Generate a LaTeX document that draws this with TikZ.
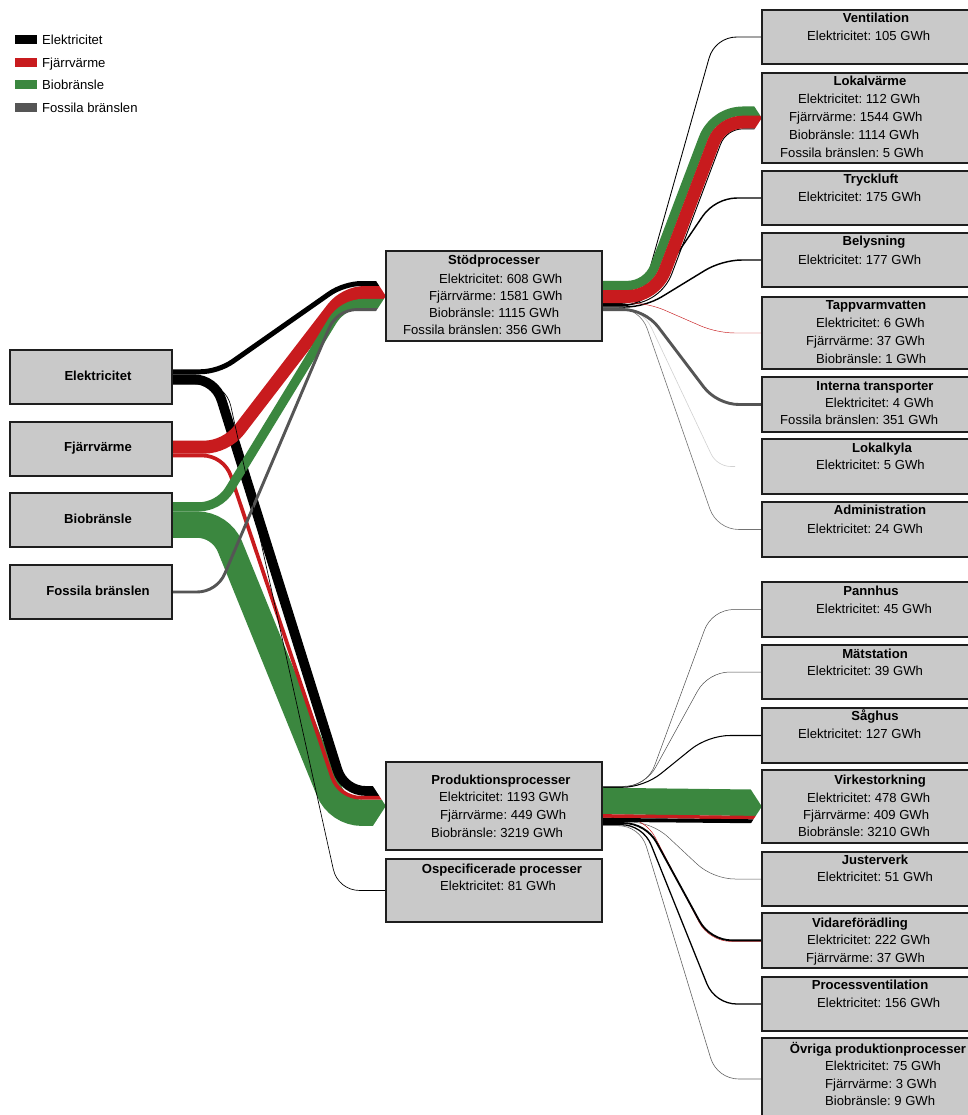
\documentclass[tikz,border=0pt]{standalone}
\usepackage{fontspec}
\setmainfont{Liberation Sans}
\usetikzlibrary{calc}
\definecolor{elc}{RGB}{0,0,0}
\definecolor{fjc}{RGB}{200,27,30}
\definecolor{bic}{RGB}{59,135,63}
\definecolor{foc}{RGB}{85,85,85}
\definecolor{boxfill}{RGB}{201,201,201}
\definecolor{boxline}{RGB}{30,30,30}
\pgfdeclarelayer{paper}
\pgfdeclarelayer{flows}
\pgfsetlayers{paper,flows,main}
\frenchspacing

% A flow band: horizontal start, straight diagonal, horizontal end,
% with rounded bends (#6 and #7 are the tangent lengths of the two bends)
\newcommand\lnk[7]{%
  \coordinate (lA) at (#2);
  \coordinate (lB) at (#5);
  \coordinate (lX1) at (#3,0);
  \coordinate (lX2) at (#4,0);
  \coordinate (lP) at (lA -| lX1);
  \coordinate (lQ) at (lB -| lX2);
  \draw[#1] (lA) -- ($(lP)!#6pt!(lA)$)
    .. controls ($(lP)!0.4*#6pt!(lA)$) and ($(lP)!0.4*#6pt!(lQ)$) .. ($(lP)!#6pt!(lQ)$)
    -- ($(lQ)!#7pt!(lP)$)
    .. controls ($(lQ)!0.4*#7pt!(lP)$) and ($(lQ)!0.4*#7pt!(lB)$) .. ($(lQ)!#7pt!(lB)$)
    -- (lB);}

% Arrow-shaped end of a stack of bands arriving at a box edge
\newcommand\notch[2]{%
  \fill[white] ($(#1)+({-0.65*(#2+2)},{-(#2+2)})$) -- ($(#1)+(2,{-(#2+2)})$) -- ($(#1)+(2,0)$) -- (#1) -- cycle;
  \fill[white] ($(#1)+({-0.65*(#2+2)},{#2+2})$) -- ($(#1)+(2,{#2+2})$) -- ($(#1)+(2,0)$) -- (#1) -- cycle;}

\begin{document}
\begin{tikzpicture}[x=1pt,y=-1pt,
  box/.style={draw=boxline, line width=2.2pt, fill=boxfill, inner sep=0pt, outer sep=0pt},
  srcbox/.style={box, minimum width=162pt, minimum height=54pt},
  midbox/.style={box, minimum width=216pt},
  endbox/.style={box, minimum width=207pt},
  lbl/.style={font=\fontsize{13.1pt}{15pt}\selectfont, inner sep=0pt, anchor=base west},
  ttl/.style={font=\fontsize{13.1pt}{15pt}\selectfont\bfseries, inner sep=0pt, anchor=base},
  swatch/.style={inner sep=0pt, outer sep=0pt, minimum width=22pt, minimum height=9pt},
  fel/.style={draw=elc},
  ffj/.style={draw=fjc},
  fbio/.style={draw=bic},
  ffo/.style={draw=foc}]

\begin{pgfonlayer}{paper}
\fill[white] (0,0) rectangle (967,1115);
\end{pgfonlayer}
\useasboundingbox (0,0) rectangle (967,1115);

% ---------- boxes ----------
\node[srcbox] (elek) at (91,377) {};
\node[srcbox] (fjarr) at (91,449) {};
\node[srcbox] (bio) at (91,520) {};
\node[srcbox] (foss) at (91,592) {};

\node[midbox, minimum height=90pt] (stod) at (494,296) {};
\node[midbox, minimum height=88pt] (prod) at (494,806) {};
\node[midbox, minimum height=63pt] (osp) at (494,890.5) {};

\node[endbox, minimum height=54pt] (vent) at (865.5,37) {};
\node[endbox, minimum height=90pt] (lokal) at (865.5,118) {};
\node[endbox, minimum height=54pt] (tryck) at (865.5,198) {};
\node[endbox, minimum height=54pt] (bely) at (865.5,260) {};
\node[endbox, minimum height=72pt] (tapp) at (865.5,333) {};
\node[endbox, minimum height=55pt] (intern) at (865.5,404.5) {};
\node[endbox, minimum height=55pt] (kyla) at (865.5,466.5) {};
\node[endbox, minimum height=55pt] (admin) at (865.5,529.5) {};
\node[endbox, minimum height=55pt] (pann) at (865.5,609.5) {};
\node[endbox, minimum height=54pt] (mat) at (865.5,672) {};
\node[endbox, minimum height=55pt] (sag) at (865.5,735.5) {};
\node[endbox, minimum height=73pt] (virk) at (865.5,806.5) {};
\node[endbox, minimum height=54pt] (just) at (865.5,879) {};
\node[endbox, minimum height=55pt] (vid) at (865.5,940.5) {};
\node[endbox, minimum height=54pt] (proc) at (865.5,1004) {};
\node[endbox, minimum height=82pt] (ovr) at (865.5,1079) {};

\coordinate (kylaend) at ($(kyla.west)+(-27,0)$);

% ---------- flows ----------
\begin{pgfonlayer}{flows}
% Stödprocesser -> end uses (thin lines)
\lnk{fel, line width=0.86pt}{$(stod.east)+(0,7.53)$}{640}{715}{vent.west}{20}{22}
\lnk{fel, line width=1.43pt}{$(stod.east)+(0,9.6)$}{642}{715}{tryck.west}{20}{22}
\lnk{fel, line width=1.45pt}{$(stod.east)+(0,11.03)$}{645}{722}{bely.west}{20}{20}
\lnk{fel, line width=0.92pt}{$(stod.east)+(0,8.42)$}{660.3}{726.3}{$(lokal.west)+(0,10.87)$}{33}{16.6}
\lnk{draw=black!55, line width=0.6pt}{$(stod.east)+(0,11.98)$}{640}{717}{admin.west}{22}{22}
\lnk{draw=black!18, line width=0.6pt}{$(stod.east)+(0,11.8)$}{642}{717}{kylaend}{22}{14}
\lnk{ffo, line width=2.88pt}{$(stod.east)+(0,13.56)$}{645}{717}{intern.west}{22}{22}
\lnk{ffj, line width=0.45pt}{$(stod.east)+(0,6.95)$}{648}{717}{tapp.west}{18}{18}

% Stödprocesser -> Lokalvärme
\lnk{fbio, line width=9.4pt}{$(stod.east)+(0,-10.43)$}{647.63}{713.63}{$(lokal.west)+(0,-6.81)$}{20.5}{29.2}
\lnk{ffj, line width=12.8pt}{$(stod.east)+(0,0.47)$}{655.16}{721.16}{$(lokal.west)+(0,4.09)$}{28}{21.7}

% Produktionsprocesser -> end uses (thin lines)
\lnk{draw=black!70, line width=0.5pt}{$(prod.east)+(0,-19.74)$}{647}{712}{pann.west}{22}{22}
\lnk{draw=black!70, line width=0.5pt}{$(prod.east)+(0,-19.4)$}{645}{708}{mat.west}{22}{22}
\lnk{fel, line width=1.04pt}{$(prod.east)+(0,-18.71)$}{644}{708}{sag.west}{22}{22}
\lnk{draw=black!65, line width=0.5pt}{$(prod.east)+(0,16.01)$}{652}{713}{just.west}{22}{22}
\lnk{ffj, line width=0.5pt}{$(prod.east)+(0,11.7)$}{645}{709}{$(vid.west)+(0,0.91)$}{22}{22}
\lnk{fel, line width=1.82pt}{$(prod.east)+(0,17.13)$}{646}{710}{$(vid.west)+(0,-0.15)$}{22}{22}
\lnk{fel, line width=1.28pt}{$(prod.east)+(0,18.68)$}{643}{715}{proc.west}{22}{22}
\lnk{draw=black!60, line width=0.61pt}{$(prod.east)+(0,19.63)$}{640}{717}{ovr.west}{22}{22}

% Produktionsprocesser -> Virkestorkning
\draw[fbio, line width=26.5pt] ($(prod.east)+(0,-5.03)$) -- ($(virk.west)+(0,-3.63)$);
\draw[ffj, line width=3.5pt] ($(prod.east)+(0,9.88)$) -- ($(virk.west)+(0,11.2)$);
\draw[fel, line width=3.92pt] ($(prod.east)+(0,13.84)$) -- ($(virk.west)+(0,14.83)$);

% carriers -> Produktionsprocesser
\lnk{fbio, line width=26.39pt}{$(bio.east)+(0,4.57)$}{221}{338}{$(prod.west)+(0,6.73)$}{24}{24}
\lnk{fel, line width=9.78pt}{$(elek.east)+(0,2.16)$}{215}{344}{$(prod.west)+(0,-15.03)$}{22}{22}
\lnk{ffj, line width=3.68pt}{$(fjarr.east)+(0,6.48)$}{224}{339}{$(prod.west)+(0,-8.3)$}{22}{22}

% carriers -> Stödprocesser
\lnk{ffj, line width=12.96pt}{$(fjarr.east)+(0,-1.84)$}{226}{345}{$(stod.west)+(0,-3.54)$}{22}{20}
\lnk{fbio, line width=9.14pt}{$(bio.east)+(0,-13.19)$}{219}{343}{$(stod.west)+(0,7.51)$}{20}{20}
\lnk{ffo, line width=2.92pt}{$(foss.east)$}{217}{337}{$(stod.west)+(0,13.54)$}{20}{20}
\lnk{fel, line width=4.98pt}{$(elek.east)+(0,-5.22)$}{218}{344}{$(stod.west)+(0,-12.51)$}{18}{18}

% Elektricitet -> Ospecificerade processer
\lnk{fel, line width=0.66pt}{$(elek.east)+(0,7.38)$}{226}{338}{osp.west}{22}{22}

% arrow-shaped ends
\notch{stod.west}{15}
\notch{prod.west}{19.92}
\notch{lokal.west}{11.37}
\notch{virk.west}{16.79}
\end{pgfonlayer}

% ---------- texts ----------
\node[ttl] (telek) at (98,380.7) {Elektricitet};
\node[ttl] (tfjarr) at (98,451.7) {Fjärrvärme};
\node[ttl] (tbio) at (98,523.7) {Biobränsle};
\node[ttl] (tfoss) at (98,595.7) {Fossila bränslen};

\node[ttl] (tstod) at (494,264.7) {Stödprocesser};
\node[lbl] (s1) at (439,283) {Elektricitet: 608 GWh};
\node[lbl] (s2) at (429,300.3) {Fjärrvärme: 1581 GWh};
\node[lbl] (s3) at (429,317.6) {Biobränsle: 1115 GWh};
\node[lbl] (s4) at (403,334.9) {Fossila bränslen: 356 GWh};

\node[ttl] (tprod) at (501,784) {Produktionsprocesser};
\node[lbl] (p1) at (439,801.4) {Elektricitet: 1193 GWh};
\node[lbl] (p2) at (440,819.7) {Fjärrvärme: 449 GWh};
\node[lbl] (p3) at (431,837.4) {Biobränsle: 3219 GWh};

\node[ttl] (tosp) at (502,873) {Ospecificerade processer};
\node[lbl] (o1) at (440,890.7) {Elektricitet: 81 GWh};

\node[ttl] (tvent) at (876,22.7) {Ventilation};
\node[lbl] (v1) at (807,40.7) {Elektricitet: 105 GWh};

\node[ttl] (tlokal) at (870,85.7) {Lokalvärme};
\node[lbl] (l1) at (798,103.7) {Elektricitet: 112 GWh};
\node[lbl] (l2) at (789,122) {Fjärrvärme: 1544 GWh};
\node[lbl] (l3) at (789,139.7) {Biobränsle: 1114 GWh};
\node[lbl] (l4) at (780,157.4) {Fossila bränslen: 5 GWh};

\node[ttl] (ttryck) at (871,183.7) {Tryckluft};
\node[lbl] (tr1) at (798,202) {Elektricitet: 175 GWh};

\node[ttl] (tbely) at (874,245.7) {Belysning};
\node[lbl] (b1) at (798,264) {Elektricitet: 177 GWh};

\node[ttl] (ttapp) at (876,309.7) {Tappvarmvatten};
\node[lbl] (ta1) at (816,327.4) {Elektricitet: 6 GWh};
\node[lbl] (ta2) at (806,345.4) {Fjärrvärme: 37 GWh};
\node[lbl] (ta3) at (816,363) {Biobränsle: 1 GWh};

\node[ttl] (tintern) at (875,390.7) {Interna transporter};
\node[lbl] (i1) at (825,407.4) {Elektricitet: 4 GWh};
\node[lbl] (i2) at (780,424.7) {Fossila bränslen: 351 GWh};

\node[ttl] (tkyla) at (882,452.4) {Lokalkyla};
\node[lbl] (k1) at (816,469.7) {Elektricitet: 5 GWh};

\node[ttl] (tadmin) at (880,514.7) {Administration};
\node[lbl] (a1) at (807,533) {Elektricitet: 24 GWh};

\node[ttl] (tpann) at (871,595.4) {Pannhus};
\node[lbl] (pa1) at (816,613) {Elektricitet: 45 GWh};

\node[ttl] (tmat) at (875,658) {Mätstation};
\node[lbl] (m1) at (807,675.4) {Elektricitet: 39 GWh};

\node[ttl] (tsag) at (875,720.7) {Såghus};
\node[lbl] (sa1) at (798,738.7) {Elektricitet: 127 GWh};

\node[ttl] (tvirk) at (880,784) {Virkestorkning};
\node[lbl] (vi1) at (807,802.4) {Elektricitet: 478 GWh};
\node[lbl] (vi2) at (803,819.7) {Fjärrvärme: 409 GWh};
\node[lbl] (vi3) at (798,836.4) {Biobränsle: 3210 GWh};

\node[ttl] (tjust) at (875,864) {Justerverk};
\node[lbl] (j1) at (817,881.4) {Elektricitet: 51 GWh};

\node[ttl] (tvid) at (860,927) {Vidareförädling};
\node[lbl] (vd1) at (807,944.7) {Elektricitet: 222 GWh};
\node[lbl] (vd2) at (806,962) {Fjärrvärme: 37 GWh};

\node[ttl] (tproc) at (870,989) {Processventilation};
\node[lbl] (pr1) at (817,1007.4) {Elektricitet: 156 GWh};

\node[ttl] (tovr) at (878,1053) {Övriga produktionprocesser};
\node[lbl] (ov1) at (825,1070.7) {Elektricitet: 75 GWh};
\node[lbl] (ov2) at (825,1088) {Fjärrvärme: 3 GWh};
\node[lbl] (ov3) at (825,1105.7) {Biobränsle: 9 GWh};

% ---------- legend ----------
\node[swatch, fill=elc] (lg1) at (26,39.5) {};
\node[swatch, fill=fjc] (lg2) at (26,62.5) {};
\node[swatch, fill=bic] (lg3) at (26,84.5) {};
\node[swatch, fill=foc] (lg4) at (26,107.5) {};
\node[lbl] (lt1) at (42,44.2) {Elektricitet};
\node[lbl] (lt2) at (42,67.2) {Fjärrvärme};
\node[lbl] (lt3) at (42,89.2) {Biobränsle};
\node[lbl] (lt4) at (42,112.2) {Fossila bränslen};
\end{tikzpicture}
\end{document}
